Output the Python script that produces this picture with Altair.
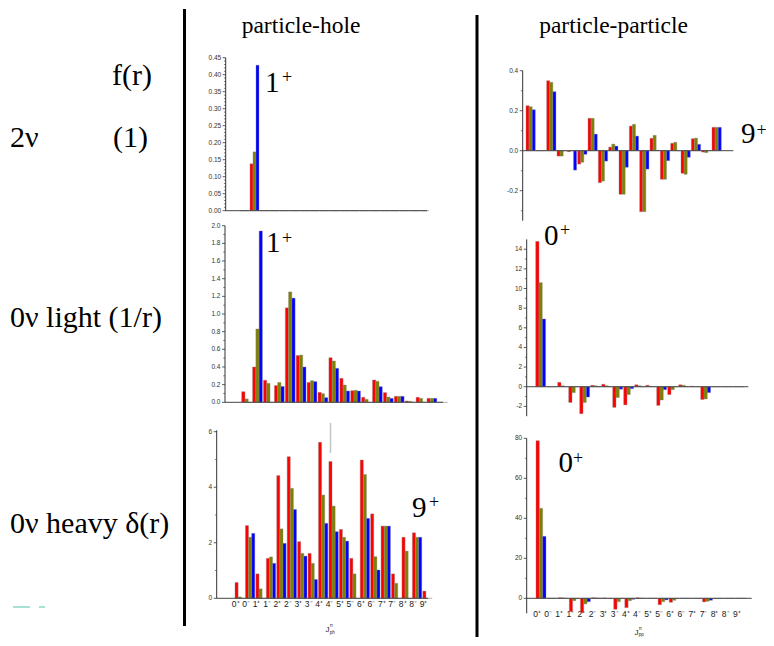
import altair as alt
import pandas as pd

# ---------------- data ----------------
cats = ["0⁺", "0⁻", "1⁺", "1⁻", "2⁺", "2⁻", "3⁺", "3⁻", "4⁺", "4⁻",
        "5⁺", "5⁻", "6⁺", "6⁻", "7⁺", "7⁻", "8⁺", "8⁻", "9⁺"]
series = ["a", "b", "c"]
colors = ["#ff0000", "#7f7f00", "#0000ff"]

# particle-hole, 2nu
ph_2nu_red   = [0.0, 0.138, 0.0, 0.0, 0.0, 0.0, 0.0, 0.0, 0.0, 0.0, 0.0, 0.0, 0.0, 0.0, 0.0, 0.0, 0.0, 0.0, 0.0]
ph_2nu_olive = [0.0, 0.173, 0.0, 0.0, 0.0, 0.0, 0.0, 0.0, 0.0, 0.0, 0.0, 0.0, 0.0, 0.0, 0.0, 0.0, 0.0, 0.0, 0.0]
ph_2nu_blue  = [0.0, 0.428, 0.0, 0.0, 0.0, 0.0, 0.0, 0.0, 0.0, 0.0, 0.0, 0.0, 0.0, 0.0, 0.0, 0.0, 0.0, 0.0, 0.0]

# particle-hole, 0nu light
ph_light_red   = [0.12, 0.40, 0.25, 0.19, 1.07, 0.53, 0.225, 0.113, 0.505, 0.272, 0.132, 0.057, 0.253, 0.11, 0.068, 0.015, 0.057, 0.045, 0.0]
ph_light_olive = [0.038, 0.83, 0.215, 0.225, 1.25, 0.535, 0.245, 0.098, 0.468, 0.196, 0.136, 0.034, 0.238, 0.06, 0.068, 0.011, 0.045, 0.045, 0.0]
ph_light_blue  = [0.0, 1.94, 0.0, 0.18, 1.18, 0.40, 0.235, 0.053, 0.385, 0.128, 0.128, 0.0, 0.177, 0.045, 0.068, 0.0, 0.0, 0.045, 0.0]

# particle-hole, 0nu heavy
ph_heavy_red   = [0.57, 2.62, 0.88, 1.44, 4.42, 5.1, 2.04, 1.62, 5.62, 4.93, 2.48, 1.44, 4.98, 3.04, 2.6, 0.88, 2.2, 2.36, 0.26]
ph_heavy_olive = [0.05, 2.2, 0.34, 1.49, 2.5, 3.96, 1.62, 1.26, 3.72, 3.32, 2.2, 0.88, 4.46, 1.5, 2.6, 0.54, 1.7, 2.2, 0.0]
ph_heavy_blue  = [0.0, 2.34, 0.0, 1.26, 1.98, 3.2, 1.52, 0.68, 2.7, 2.4, 2.06, 0.0, 2.88, 1.02, 2.6, 0.0, 0.0, 2.2, 0.0]

# particle-particle, 2nu
pp_2nu_red   = [0.225, 0.0, 0.35, -0.027, -0.005, -0.067, 0.162, -0.16, 0.018, -0.218, 0.123, -0.305, 0.062, -0.143, 0.037, -0.113, 0.06, -0.007, 0.117]
pp_2nu_olive = [0.22, 0.0, 0.342, -0.027, 0.0, -0.058, 0.162, -0.152, 0.033, -0.218, 0.132, -0.305, 0.077, -0.143, 0.042, -0.118, 0.063, -0.01, 0.117]
pp_2nu_blue  = [0.205, 0.0, 0.295, 0.0, -0.097, -0.018, 0.083, -0.052, 0.023, -0.083, 0.073, -0.092, 0.002, -0.05, 0.0, -0.033, 0.032, 0.0, 0.117]

# particle-particle, 0nu light
pp_light_red   = [14.8, 0.0, 0.45, -1.6, -2.75, 0.15, 0.25, -2.1, -1.85, 0.2, 0.15, -1.9, -0.8, 0.2, 0.05, -1.3, 0.0, 0.0, 0.0]
pp_light_olive = [10.6, 0.0, 0.1, -0.6, -1.6, 0.1, 0.1, -1.1, -0.8, 0.1, 0.05, -1.35, -0.3, 0.15, 0.0, -1.25, 0.0, 0.0, 0.0]
pp_light_blue  = [6.9, 0.0, 0.0, 0.0, -1.05, 0.0, 0.0, -0.25, -0.2, 0.0, 0.0, -0.3, 0.0, 0.0, 0.0, -0.6, 0.0, 0.0, 0.0]

# particle-particle, 0nu heavy
pp_heavy_red   = [78.8, 0.0, 0.3, -6.7, -7.2, 0.3, 0.2, -5.5, -4.7, 0.3, 0.0, -3.2, -2.0, 0.0, 0.0, -1.8, 0.0, 0.0, 0.0]
pp_heavy_olive = [45.0, 0.0, 0.2, -1.2, -2.8, 0.2, 0.0, -1.7, -1.2, 0.1, 0.0, -1.7, -1.0, 0.0, 0.0, -1.5, 0.0, 0.0, 0.0]
pp_heavy_blue  = [31.0, 0.0, 0.0, 0.0, -1.7, 0.1, 0.0, 0.0, -0.5, 0.0, 0.0, -0.8, 0.0, 0.0, 0.0, -1.0, 0.0, 0.0, 0.0]

# axis tick values (major, labelled) and minor ticks
ticks_ph_2nu = [0.0, 0.05, 0.10, 0.15, 0.20, 0.25, 0.30, 0.35, 0.40, 0.45]
minor_ph_2nu = [0.01, 0.02, 0.03, 0.04, 0.06, 0.07, 0.08, 0.09, 0.11, 0.12, 0.13, 0.14,
                0.16, 0.17, 0.18, 0.19, 0.21, 0.22, 0.23, 0.24, 0.26, 0.27, 0.28, 0.29,
                0.31, 0.32, 0.33, 0.34, 0.36, 0.37, 0.38, 0.39, 0.41, 0.42, 0.43, 0.44]
ticks_ph_light = [0.0, 0.2, 0.4, 0.6, 0.8, 1.0, 1.2, 1.4, 1.6, 1.8, 2.0]
minor_ph_light = [0.1, 0.3, 0.5, 0.7, 0.9, 1.1, 1.3, 1.5, 1.7, 1.9]
ticks_ph_heavy = [0, 2, 4, 6]
minor_ph_heavy = [1, 3, 5]
ticks_pp_2nu = [-0.2, 0.0, 0.2, 0.4]
minor_pp_2nu = [-0.3, -0.1, 0.1, 0.3]
ticks_pp_light = [-2, 0, 2, 4, 6, 8, 10, 12, 14]
minor_pp_light = [-1, 1, 3, 5, 7, 9, 11, 13]
ticks_pp_heavy = [0, 20, 40, 60, 80]
minor_pp_heavy = [10, 30, 50, 70]

# ---------------- layout (page pixel coordinates) ----------------
W, H = 758, 630
def P(v):
    return v - 8

SERIF = "Liberation Serif"
SANS = "Liberation Sans"
AXC = "#333333"


def panel(vals, yd, yr, ax, xr, base, ticks, minor, fmt, xlab_top=None):
    rows = []
    for s, arr in zip(series, vals):
        for c, v in zip(cats, arr):
            rows.append({"cat": c, "s": s, "v": v})
    df = pd.DataFrame(rows)
    if xlab_top is None:
        xaxis = None
    else:
        xaxis = alt.Axis(orient="bottom", offset=P(xlab_top) - H, domain=False, ticks=False,
                         tickSize=0, labelPadding=0, labelFontSize=8.5, labelFont=SANS,
                         labelColor="#1a1a1a", labelAngle=0, labelOffset=-4, title=None,
                         labelBaseline="top")
    yscale = alt.Scale(domain=yd, range=[P(yr[0]), P(yr[1])], nice=False)
    bars = alt.Chart(df).mark_bar(stroke="#8a8a8a", strokeWidth=0.4).encode(
        x=alt.X("cat:N", sort=cats,
                scale=alt.Scale(domain=cats, range=[P(xr[0]), P(xr[1])], paddingInner=0.1, paddingOuter=0),
                axis=xaxis),
        xOffset=alt.XOffset("s:N", scale=alt.Scale(domain=series, paddingInner=0, paddingOuter=0)),
        y=alt.Y("v:Q", scale=yscale, axis=None),
        color=alt.Color("s:N", scale=alt.Scale(domain=series, range=colors), legend=None),
    )
    yv = alt.Y("v:Q", axis=None)
    zero = alt.Chart(pd.DataFrame({"v": [0]})).mark_rule(color="#444", strokeWidth=1).encode(
        y=yv, x=alt.value(P(base[0])), x2=alt.value(P(base[1])),
    )
    dom = alt.Chart(pd.DataFrame({"v": [yd[0]], "v2": [yd[1]]})).mark_rule(color=AXC, strokeWidth=1).encode(
        y=yv, y2="v2:Q", x=alt.value(P(ax)),
    )
    major_df = pd.DataFrame({"v": ticks, "lab": [format(t, fmt) for t in ticks]})
    major = alt.Chart(major_df).mark_rule(color=AXC, strokeWidth=0.8).encode(
        y=yv, x=alt.value(P(ax) - 3), x2=alt.value(P(ax)),
    )
    minor_t = alt.Chart(pd.DataFrame({"v": minor})).mark_rule(color=AXC, strokeWidth=0.6).encode(
        y=yv, x=alt.value(P(ax) - 1.8), x2=alt.value(P(ax)),
    )
    labels = alt.Chart(major_df).mark_text(align="right", baseline="middle", fontSize=6.5,
                                           font=SANS, color=AXC).encode(
        y=yv, x=alt.value(P(ax) - 4.5), text="lab:N",
    )
    return alt.layer(bars, zero, dom, major, minor_t, labels)


panels = [
    panel([ph_2nu_red, ph_2nu_olive, ph_2nu_blue], [0, 0.45], [210.7, 57.7], 225.7,
          [240, 429], [225.7, 427], ticks_ph_2nu, minor_ph_2nu, ".2f"),
    panel([ph_light_red, ph_light_olive, ph_light_blue], [0, 2.0], [402.3, 225.7], 225,
          [241.7, 447.7], [225, 443], ticks_ph_light, minor_ph_light, ".1f"),
    panel([ph_heavy_red, ph_heavy_olive, ph_heavy_blue], [0, 6.05], [598.3, 430.3], 216.7,
          [235, 432.2], [216.7, 428], ticks_ph_heavy, minor_ph_heavy, "d", xlab_top=599.5),
    panel([pp_2nu_red, pp_2nu_olive, pp_2nu_blue], [-0.35, 0.4], [220.7, 70.7], 522.7,
          [526, 721.3], [522.7, 733.3], ticks_pp_2nu, minor_pp_2nu, ".1f"),
    panel([pp_light_red, pp_light_olive, pp_light_blue], [-3, 15], [416.2, 239.4], 526.7,
          [535.7, 743.6], [526.7, 748.3], ticks_pp_light, minor_pp_light, "d"),
    panel([pp_heavy_red, pp_heavy_olive, pp_heavy_blue], [-7.5, 80], [613.3, 438.3], 526.7,
          [536, 745.8], [526.7, 751.7], ticks_pp_heavy, minor_pp_heavy, "d", xlab_top=609.0),
]

# ---------------- texts ----------------
def text_layer(items, font, align, baseline, color="black"):
    df = pd.DataFrame(items, columns=["t", "x", "y", "fs"])
    df["x"] = df["x"].map(P)
    df["y"] = df["y"].map(P)
    return alt.Chart(df).mark_text(font=font, align=align, baseline=baseline, color=color).encode(
        x=alt.X("x:Q", scale=None, axis=None),
        y=alt.Y("y:Q", scale=None, axis=None),
        size=alt.Size("fs:Q", scale=None, legend=None),
        text="t:N",
    )

headers = text_layer([
    ("particle-hole", 301, 33, 23.5),
    ("particle-particle", 613.5, 33, 23.5),
], SERIF, "center", "alphabetic")

row_labels = text_layer([
    ("f(r)", 112, 85, 30),
    ("2ν", 10, 147, 30),
    ("(1)", 113, 147, 30),
    ("0ν light (1/r)", 10, 327, 30),
    ("0ν heavy δ(r)", 10, 533, 30),
    ("1", 265, 91.7, 29),
    ("1", 266, 252.3, 29),
    ("9", 412, 516.7, 29),
    ("9", 741, 143.3, 29),
    ("0", 544, 245, 29),
    ("0", 558.5, 471.7, 29),
], SERIF, "left", "alphabetic")

sups = text_layer([
    ("+", 287, 78, 18),
    ("+", 287, 239, 18),
    ("+", 434, 502.5, 18),
    ("+", 761.7, 131, 18),
    ("+", 565, 231, 18),
    ("+", 578, 459, 18),
], SERIF, "center", "middle")

ax_titles_main = text_layer([
    ("J", 325.5, 629.5, 8),
    ("J", 634.5, 632.5, 8),
], SANS, "left", "middle", color="#222")

ax_titles_small = text_layer([
    ("π", 329.8, 626.0, 4.5),
    ("ph", 329.8, 632.5, 4.5),
    ("π", 638.8, 629.0, 4.5),
    ("pp", 638.8, 635.2, 4.5),
], SANS, "left", "middle", color="#222")

# ---------------- decorative lines ----------------
lines = pd.DataFrame({
    "x":  [184.5, 477, 330.5, 13, 39],
    "x2": [184.5, 477, 330.5, 30, 45],
    "y":  [9, 15, 423, 607, 607],
    "y2": [626, 637, 453, 607, 607],
    "c":  ["#000000", "#000000", "#c4c4c4", "#a6e3d4", "#a6e3d4"],
    "w":  [3, 3, 1.5, 2, 2],
})
for col in ["x", "x2", "y", "y2"]:
    lines[col] = lines[col].map(P)
rules = alt.Chart(lines).mark_rule().encode(
    x=alt.X("x:Q", scale=None, axis=None),
    x2="x2:Q",
    y=alt.Y("y:Q", scale=None, axis=None),
    y2="y2:Q",
    color=alt.Color("c:N", scale=None, legend=None),
    strokeWidth=alt.StrokeWidth("w:Q", scale=None, legend=None),
)

chart = alt.layer(
    *panels, rules, headers, row_labels, sups, ax_titles_main, ax_titles_small
).resolve_scale(
    x="independent", y="independent", xOffset="independent"
).resolve_axis(
    x="independent", y="independent"
).properties(
    width=W, height=H,
    autosize=alt.AutoSizeParams(type="none"),
    padding=0,
).configure_view(stroke=None)

chart.save("out.html", embed_options={"renderer": "svg", "actions": False})
